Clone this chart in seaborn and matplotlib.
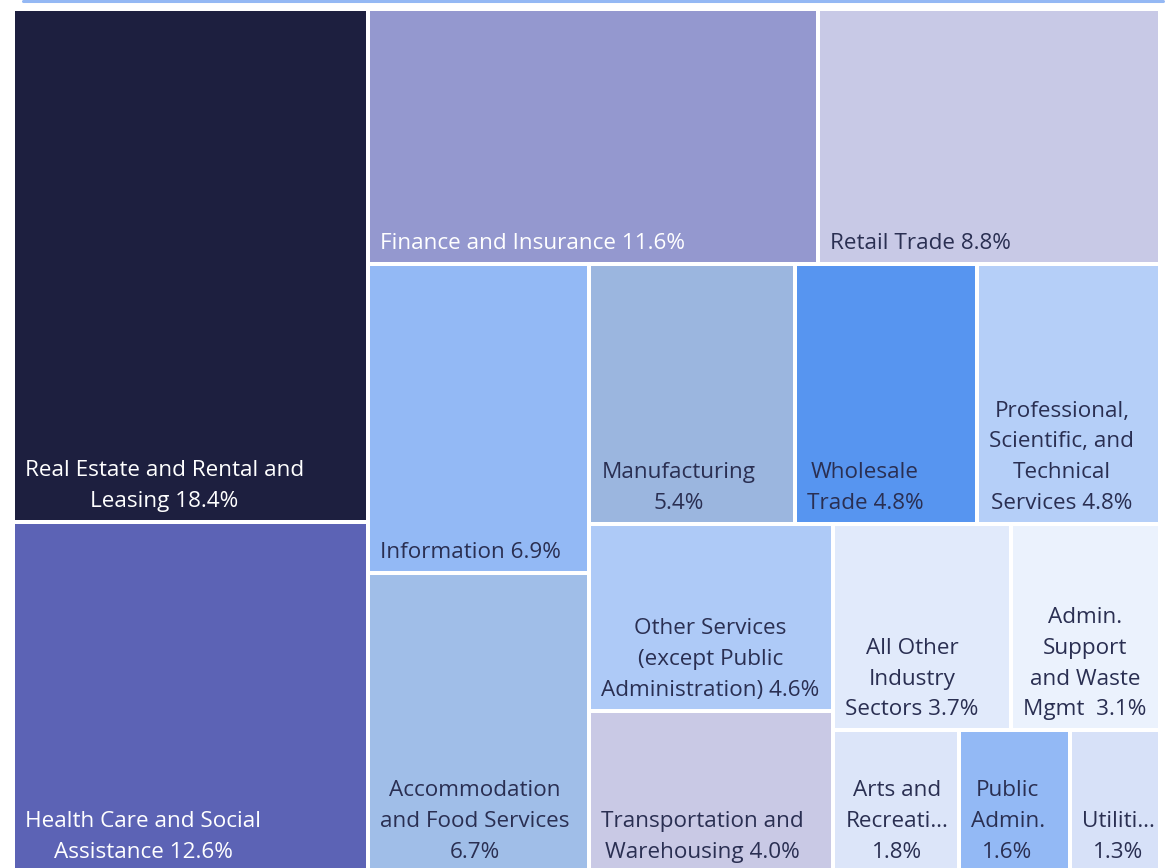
import matplotlib
matplotlib.use("Agg")
import matplotlib.pyplot as plt
import matplotlib.patches as mpatches
import seaborn as sns

# ---------------- data ----------------
names = [
    "Real Estate and Rental and\nLeasing",
    "Health Care and Social\nAssistance",
    "Finance and Insurance",
    "Retail Trade",
    "Information",
    "Accommodation\nand Food Services",
    "Manufacturing",
    "Wholesale\nTrade",
    "Professional,\nScientific, and\nTechnical\nServices",
    "Other Services\n(except Public\nAdministration)",
    "Transportation and\nWarehousing",
    "All Other\nIndustry\nSectors",
    "Admin.\nSupport\nand Waste\nMgmt ",
    "Arts and\nRecreati…",
    "Public\nAdmin.",
    "Utiliti…",
]
separators = [" ", " ", " ", " ", " ", "\n", "\n", " ", " ", " ", " ", " ", " ", "\n", "\n", "\n"]
shares = [18.4, 12.6, 11.6, 8.8, 6.9, 6.7, 5.4, 4.8, 4.8, 4.6, 4.0, 3.7, 3.1, 1.8, 1.6, 1.3]
colors = [
    "#1D1F3F", "#5C63B5", "#9498CF", "#C8C9E6", "#93B9F5", "#A0BEE8",
    "#9BB6DF", "#5795F0", "#B5CFF8", "#AECAF7", "#C9C9E5", "#E1EAFB",
    "#EBF2FD", "#DCE5F9", "#93B9F5", "#D7E1F8",
]
light_text = [True, True, True] + [False] * 13
# number of tiles in each successive strip of the layout
strip_sizes = [2, 2, 2, 3, 2, 2, 3]

# ---------------- layout ----------------
W, H = 1167, 868
X0, Y0, X1, Y1 = 13.0, 9.0, 1160.0, 873.0  # treemap region in pixels (top-left origin)
GAP = 2.0


def strip_layout(values, sizes, x0, y0, x1, y1):
    rects = []
    i = 0
    remaining = sum(values)
    for n in sizes:
        group = values[i:i + n]
        gsum = sum(group)
        w, h = x1 - x0, y1 - y0
        last = (i + n) >= len(values)
        if last:
            # split remaining area along its longer side
            if w >= h:
                cx = x0
                for v in group:
                    dw = w * v / gsum
                    rects.append((cx, y0, dw, h))
                    cx += dw
            else:
                cy = y0
                for v in group:
                    dh = h * v / gsum
                    rects.append((x0, cy, w, dh))
                    cy += dh
        elif w >= h:
            sw = w * gsum / remaining
            cy = y0
            for v in group:
                dh = h * v / gsum
                rects.append((x0, cy, sw, dh))
                cy += dh
            x0 += sw
        else:
            sh = h * gsum / remaining
            cx = x0
            for v in group:
                dw = w * v / gsum
                rects.append((cx, y0, dw, sh))
                cx += dw
            y0 += sh
        remaining -= gsum
        i += n
    return rects


rects = strip_layout(shares, strip_sizes, X0, Y0, X1, Y1)

# ---------------- drawing ----------------
sns.set_theme(style="white")
plt.rcParams["font.family"] = ["Open Sans", "DejaVu Sans"]

fig = plt.figure(figsize=(W / 100, H / 100), dpi=100)
ax = fig.add_axes([0, 0, 1, 1])
ax.set_xlim(0, W)
ax.set_ylim(H, 0)
ax.axis("off")

for (x, y, w, h), name, sep, v, c, lt in zip(rects, names, separators, shares, colors, light_text):
    ax.add_patch(mpatches.Rectangle((x + GAP, y + GAP), w - 2 * GAP, h - 2 * GAP,
                                    facecolor=c, edgecolor="none"))
    label = f"{name}{sep}{v:.1f}%"
    ax.text(x + GAP + 10, y + h - GAP - 8, label, ha="left", va="bottom",
            multialignment="center", fontsize=16.2, linespacing=1.62,
            color="white" if lt else "#2A2F52")

# header rule at top
fig.add_artist(plt.Line2D([23 / W, 1163 / W], [1 - 1 / H, 1 - 1 / H],
                          color="#94B8F4", linewidth=2.2))

fig.savefig("out.png", dpi=100)
